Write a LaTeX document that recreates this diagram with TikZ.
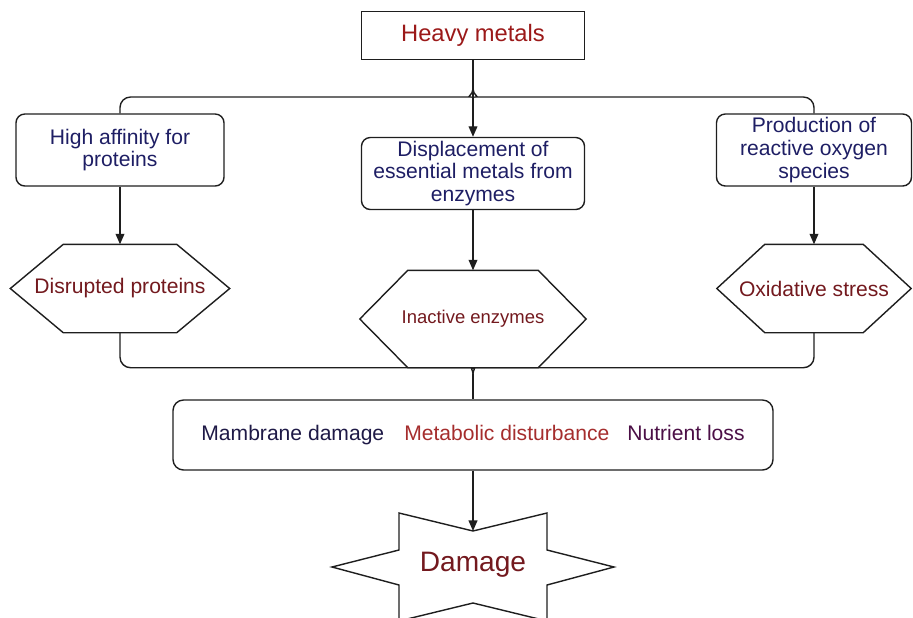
\documentclass[tikz,border=0pt]{standalone}
\usepackage{fontspec}
\setmainfont{Liberation Sans}
\usepackage{xcolor}
\usetikzlibrary{positioning,arrows.meta}
\definecolor{hmred}{RGB}{155,25,25}
\definecolor{boxnavy}{RGB}{30,30,100}
\definecolor{hexred}{RGB}{115,25,30}
\definecolor{effnavy}{RGB}{30,25,70}
\definecolor{effred}{RGB}{165,45,45}
\definecolor{effpurple}{RGB}{75,15,70}
\definecolor{linegray}{RGB}{30,30,30}

\begin{document}
\begin{tikzpicture}[
    line width=0.8pt, color=linegray,
    every node/.style={align=center, inner sep=0pt, font=\fontsize{12}{13}\selectfont},
    causebox/.style={draw, rounded corners=5pt, text=boxnavy, minimum height=1.44cm},
    hexbox/.style={text=hexred},
    arr/.style={-{Triangle[width=5pt,length=6pt]}}
  ]
    \useasboundingbox (0,0) rectangle (18.26,-12.34);

    \node[draw, text=hmred, minimum width=4.46cm, minimum height=0.96cm, font=\fontsize{13.5}{16}\selectfont] (hm) at (9.46,-0.71) {Heavy metals};
    \node[causebox, minimum width=4.16cm] (aff) at (2.40,-3.00) {High affinity for\\proteins};
    \node[causebox, minimum width=4.46cm] (disp) at (9.46,-3.47) {Displacement of\\essential metals from\\enzymes};
    \node[causebox, minimum width=3.9cm] (ros) at (16.28,-3.00) {Production of\\reactive oxygen\\species};

    \node[hexbox, minimum width=4.36cm, minimum height=1.74cm] (dis) at (2.40,-5.77) {Disrupted proteins};
    \node[hexbox, minimum width=4.5cm, minimum height=1.92cm, font=\fontsize{10.5}{12}\selectfont] (inact) at (9.46,-6.38) {Inactive enzymes};
    \node[hexbox, minimum width=3.86cm, minimum height=1.74cm] (oxi) at (16.28,-5.77) {Oxidative stress};
    \foreach \n/\s in {dis/1.06, inact/0.96, oxi/0.96}
      \draw (\n.west) -- ([xshift=\s cm]\n.north west) -- ([xshift=-\s cm]\n.north east) -- (\n.east)
        -- ([xshift=-\s cm]\n.south east) -- ([xshift=\s cm]\n.south west) -- cycle;

    \node[draw, rounded corners=6pt, minimum width=12cm, minimum height=1.40cm] (effects) at (9.46,-8.70) {\textcolor{effnavy}{Mambrane damage}\hspace{0.4cm}\textcolor{effred}{Metabolic disturbance}\hspace{0.36cm}\textcolor{effpurple}{Nutrient loss}};

    \node[text=hexred, font=\fontsize{16}{18}\selectfont] (dmg) at (9.46,-11.30) {Damage};
    \draw[shift={(dmg.center)}] (-1.48,1.04) -- (0,0.68) coordinate (dmgtop) -- (1.48,1.04) -- (1.48,0.30) -- (2.82,-0.04)
      -- (1.48,-0.40) -- (1.48,-1.12) -- (0,-0.76) -- (-1.48,-1.12) -- (-1.48,-0.40) -- (-2.82,-0.04) -- (-1.48,0.30) -- cycle;

    \coordinate (tj) at (9.46,-1.94);
    \coordinate (bj) at ([yshift=-0.12cm]inact.south);

    \draw[arr] (hm) -- (disp);
    \draw[rounded corners=6pt] (aff.north) |- ([xshift=-0.26cm]tj) to[out=0,in=-90] ([yshift=0.16cm]tj);
    \draw[rounded corners=6pt] (ros.north) |- ([xshift=0.26cm]tj) to[out=180,in=-90] ([yshift=0.16cm]tj);

    \draw[arr] (aff) -- (dis);
    \draw[arr] (disp) -- (inact);
    \draw[arr] (ros) -- (oxi);

    \draw[rounded corners=6pt] (dis.south) |- ([xshift=-0.16cm]inact.south) to[out=0,in=90] (bj);
    \draw[rounded corners=6pt] (oxi.south) |- ([xshift=0.16cm]inact.south) to[out=180,in=90] (bj);
    \draw (bj) -- (effects);

    \draw[arr] (effects) -- (dmgtop);
  \end{tikzpicture}
\end{document}
